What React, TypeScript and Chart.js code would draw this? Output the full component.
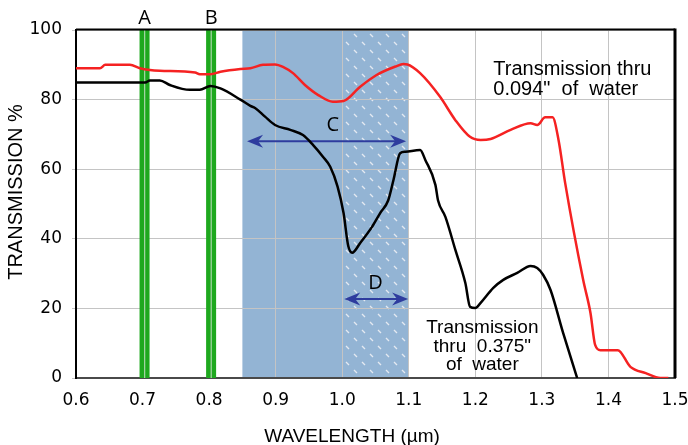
import React, { useEffect, useRef } from 'react';
import { Chart, registerables } from 'chart.js';

Chart.register(...registerables);

// ---- Data ----
const redWavelengths = [
  0.6, 0.636, 0.644, 0.681, 0.696, 0.711, 0.726, 0.779, 0.786, 0.802, 0.817, 0.847,
  0.862, 0.881, 0.899, 0.911, 0.926, 0.944, 0.964, 0.986, 1.002, 1.027, 1.051, 1.08,
  1.092, 1.098, 1.117, 1.147, 1.17, 1.192, 1.208, 1.223, 1.253, 1.283, 1.293, 1.305,
  1.316, 1.325, 1.335, 1.362, 1.373, 1.38, 1.388, 1.414, 1.433, 1.456, 1.478, 1.49,
];
const redTransmission = [
  89, 89, 90, 90, 89, 88.5, 88.3, 87.8, 87.3, 87.3, 88, 88.8,
  89, 90, 90.1, 89.4, 87.6, 84.2, 81.3, 79.4, 79.6, 83.7, 87, 89.5,
  90.2, 90.1, 87.6, 80.8, 74.1, 69.3, 68.4, 68.7, 71.3, 73.2, 72.7, 74.9,
  74.9, 68.4, 56, 28.2, 18.7, 9.5, 8, 8, 3.2, 1.4, 0, 0,
];

const blackWavelengths = [
  0.6, 0.704, 0.711, 0.726, 0.741, 0.771, 0.786, 0.802, 0.817, 0.847, 0.862, 0.869,
  0.884, 0.899, 0.922, 0.941, 0.956, 0.971, 0.982, 0.993, 1.002, 1.009, 1.015, 1.027,
  1.045, 1.057, 1.069, 1.077, 1.087, 1.095, 1.117, 1.125, 1.14, 1.144, 1.155, 1.17,
  1.185, 1.192, 1.2, 1.208, 1.227, 1.242, 1.263, 1.283, 1.293, 1.302, 1.313, 1.332, 1.353,
];
const blackTransmission = [
  84.9, 84.9, 85.5, 85.5, 84.2, 82.8, 82.8, 83.9, 83.2, 80, 78.2, 77.6,
  75.1, 72.7, 71.3, 69.8, 67, 63.6, 60.7, 55, 47.4, 38, 36, 38.8,
  43.5, 47.4, 51, 56.9, 64.6, 65, 65.5, 62.6, 55.5, 51, 46.3, 36.8,
  27.3, 20.5, 20.1, 21.6, 25.9, 28.2, 30.2, 32.2, 31.6, 29.6, 25.3, 12.9, 0,
];

const xTickValues = [0.6, 0.7, 0.8, 0.9, 1.0, 1.1, 1.2, 1.3, 1.4, 1.5];
const yTickValues = [0, 20, 40, 60, 80, 100];

const bandCenters = [0.703, 0.803];
const bandLabels = ['A', 'B'];
const windowRange = [0.85, 1.1];
const patternRange = [1.0, 1.1];
const arrowC = [0.857, 1.096, 68];
const arrowD = [1.003, 1.099, 22.7];
const labelC = [0.986, 72.7];
const labelD = [1.05, 27.3];
const upperNote = ['Transmission thru', '0.094"  of  water'];
const upperNotePos = [1.227, 87.1, 81.3];
const lowerNote = ['Transmission', 'thru  0.375"', 'of  water'];
const lowerNotePos = [1.2105, 12.9, 7.5, 2.3];

const ARROW_COLOR = '#2e3c9e';

function drawArrow(ctx: CanvasRenderingContext2D, xa: number, xb: number, yy: number) {
  const head = 16;
  const hw = 6.5;
  ctx.strokeStyle = ARROW_COLOR;
  ctx.fillStyle = ARROW_COLOR;
  ctx.lineWidth = 2;
  ctx.beginPath();
  ctx.moveTo(xa + 6, yy);
  ctx.lineTo(xb - 6, yy);
  ctx.stroke();
  ctx.beginPath();
  ctx.moveTo(xa, yy);
  ctx.lineTo(xa + head, yy - hw);
  ctx.lineTo(xa + head - 5, yy);
  ctx.lineTo(xa + head, yy + hw);
  ctx.closePath();
  ctx.fill();
  ctx.beginPath();
  ctx.moveTo(xb, yy);
  ctx.lineTo(xb - head, yy - hw);
  ctx.lineTo(xb - head + 5, yy);
  ctx.lineTo(xb - head, yy + hw);
  ctx.closePath();
  ctx.fill();
}

const overlayPlugin = {
  id: 'overlay',
  beforeDraw(chart: any) {
    const { ctx, chartArea, scales } = chart;
    const { top, bottom } = chartArea;
    const x = scales.x;
    ctx.save();
    const x0 = x.getPixelForValue(windowRange[0]);
    const x1 = x.getPixelForValue(windowRange[1]);
    ctx.fillStyle = '#93b4d4';
    ctx.fillRect(x0, top, x1 - x0, bottom - top);

    const pc = document.createElement('canvas');
    pc.width = 16;
    pc.height = 16;
    const p = pc.getContext('2d')!;
    p.fillStyle = '#93b4d4';
    p.fillRect(0, 0, 16, 16);
    p.strokeStyle = 'rgba(232,236,242,0.95)';
    p.lineWidth = 1.4;
    p.beginPath();
    p.moveTo(2, 2);
    p.lineTo(5, 5);
    p.moveTo(10, 10);
    p.lineTo(13, 13);
    p.stroke();
    const pattern = ctx.createPattern(pc, 'repeat');
    const p0 = x.getPixelForValue(patternRange[0]);
    const p1 = x.getPixelForValue(patternRange[1]);
    ctx.fillStyle = pattern;
    ctx.fillRect(p0, top, p1 - p0, bottom - top);
    ctx.restore();
  },
  beforeDatasetsDraw(chart: any) {
    const { ctx, chartArea, scales } = chart;
    const { top, bottom } = chartArea;
    const x = scales.x;
    const y = scales.y;
    ctx.save();
    bandCenters.forEach((c) => {
      const px = x.getPixelForValue(c);
      ctx.fillStyle = '#1ea81e';
      ctx.fillRect(px - 5, top, 10, bottom - top);
      ctx.fillStyle = '#a9d6a9';
      ctx.fillRect(px - 0.5, top, 1.2, bottom - top);
    });
    drawArrow(ctx, x.getPixelForValue(arrowC[0]), x.getPixelForValue(arrowC[1]), y.getPixelForValue(arrowC[2]));
    drawArrow(ctx, x.getPixelForValue(arrowD[0]), x.getPixelForValue(arrowD[1]), y.getPixelForValue(arrowD[2]));
    ctx.restore();
  },
  afterDraw(chart: any) {
    const { ctx, chartArea, scales } = chart;
    const { top, bottom, left, right } = chartArea;
    const x = scales.x;
    const y = scales.y;
    ctx.save();
    // top and right frame
    ctx.strokeStyle = '#000';
    ctx.lineWidth = 2;
    ctx.beginPath();
    ctx.moveTo(left, top - 0.5);
    ctx.lineTo(right, top - 0.5);
    ctx.stroke();
    ctx.lineWidth = 3;
    ctx.beginPath();
    ctx.moveTo(right, top - 1.5);
    ctx.lineTo(right, bottom);
    ctx.stroke();

    // band letters
    ctx.fillStyle = '#000';
    ctx.textAlign = 'center';
    ctx.textBaseline = 'middle';
    ctx.font = '20px "Open Sans"';
    bandCenters.forEach((c, i) => {
      ctx.fillText(bandLabels[i], x.getPixelForValue(c), top - 12);
    });
    ctx.fillText('C', x.getPixelForValue(labelC[0]), y.getPixelForValue(labelC[1]));
    ctx.fillText('D', x.getPixelForValue(labelD[0]), y.getPixelForValue(labelD[1]));

    // annotations
    ctx.textBaseline = 'alphabetic';
    ctx.textAlign = 'left';
    ctx.font = '20px "Liberation Sans"';
    ctx.fillText(upperNote[0], x.getPixelForValue(upperNotePos[0]), y.getPixelForValue(upperNotePos[1]));
    ctx.fillText(upperNote[1], x.getPixelForValue(upperNotePos[0]), y.getPixelForValue(upperNotePos[2]));
    ctx.textAlign = 'center';
    ctx.font = '19px "Liberation Sans"';
    lowerNote.forEach((t, i) => {
      ctx.fillText(t, x.getPixelForValue(lowerNotePos[0]), y.getPixelForValue(lowerNotePos[i + 1]));
    });

    // axis titles
    ctx.textBaseline = 'middle';
    ctx.font = '19px "Liberation Sans"';
    ctx.fillText('WAVELENGTH (µm)', 352, 437);
    ctx.translate(16, 192);
    ctx.rotate(-Math.PI / 2);
    ctx.font = '20px "Liberation Sans"';
    ctx.fillText('TRANSMISSION %', 0, 0);
    ctx.restore();
  },
};

export default function App() {
  const canvasRef = useRef<HTMLCanvasElement | null>(null);

  useEffect(() => {
    document.body.style.margin = '0';
    const canvas = canvasRef.current;
    if (!canvas) return;
    const chart = new Chart(canvas, {
      type: 'line',
      data: {
        datasets: [
          {
            label: '0.094" of water',
            data: redWavelengths.map((w, i) => ({ x: w, y: redTransmission[i] })),
            borderColor: '#f52222',
            borderWidth: 2.5,
            pointRadius: 0,
            cubicInterpolationMode: 'monotone',
          },
          {
            label: '0.375" of water',
            data: blackWavelengths.map((w, i) => ({ x: w, y: blackTransmission[i] })),
            borderColor: '#000000',
            borderWidth: 2.5,
            pointRadius: 0,
            cubicInterpolationMode: 'monotone',
          },
        ],
      },
      options: {
        animation: false,
        responsive: false,
        devicePixelRatio: 1,
        layout: { padding: { left: 0, right: 13, top: 30, bottom: 0 } },
        plugins: {
          legend: { display: false },
          tooltip: { enabled: false },
        },
        scales: {
          x: {
            type: 'linear',
            min: 0.6,
            max: 1.5,
            afterFit: (s: any) => {
              s.height = 67;
              s.paddingLeft = 0;
              s.paddingRight = 0;
            },
            afterBuildTicks: (s: any) => {
              s.ticks = xTickValues.map((v) => ({ value: v }));
            },
            ticks: {
              padding: 12,
              color: '#000',
              font: { family: 'DejaVu Sans', size: 17 },
              callback: (v: any) => Number(v).toFixed(1),
            },
            grid: { color: '#c4c4c4', lineWidth: 1, drawTicks: false },
            border: { display: true, color: '#4a4a4a', width: 2 },
          },
          y: {
            type: 'linear',
            min: 0,
            max: 100,
            afterFit: (s: any) => {
              s.width = 76;
              s.paddingTop = 0;
              s.paddingBottom = 0;
            },
            afterBuildTicks: (s: any) => {
              s.ticks = yTickValues.map((v) => ({ value: v }));
            },
            ticks: {
              padding: 10,
              color: '#000',
              font: { family: 'DejaVu Sans', size: 17 },
            },
            grid: { color: '#c4c4c4', lineWidth: 1, tickLength: 4 },
            border: { display: true, color: '#000', width: 2 },
          },
        },
      },
      plugins: [overlayPlugin],
    });
    return () => chart.destroy();
  }, []);

  return (
    <div style={{ width: 688, height: 445 }}>
      <canvas ref={canvasRef} width={688} height={445} />
    </div>
  );
}
